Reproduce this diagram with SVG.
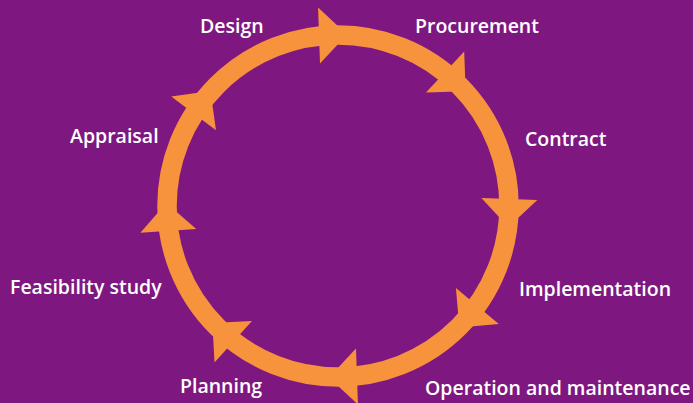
<svg xmlns="http://www.w3.org/2000/svg" xmlns:xlink="http://www.w3.org/1999/xlink" width="693" height="403" viewBox="0 0 693 403">
  <style>
    .bg { fill: #7e1880; }
    .ring { fill: none; stroke: #f7933c; stroke-width: 19.5; }
    .ah { fill: #f7933c; }
    .lbl { font-family: "Open Sans", "Noto Sans", "Liberation Sans", sans-serif; font-size: 19.5px; font-weight: 600; fill: #ffffff; }
  </style>
  <defs>
    <path id="arrowhead" class="ah" d="M -13,-28 L 15,0 L -13,28 Z"/>
  </defs>
  <rect class="bg" x="0" y="0" width="693" height="403"/>
  <g id="connectors">
    <circle class="ring" cx="338" cy="206" r="171"/>
    <use xlink:href="#arrowhead" href="#arrowhead" transform="translate(338,206) rotate(-92) translate(171,0) rotate(90)"/>
    <use xlink:href="#arrowhead" href="#arrowhead" transform="translate(338,206) rotate(-47) translate(171,0) rotate(90)"/>
    <use xlink:href="#arrowhead" href="#arrowhead" transform="translate(338,206) rotate(2) translate(171,0) rotate(90)"/>
    <use xlink:href="#arrowhead" href="#arrowhead" transform="translate(338,206) rotate(40) translate(171,0) rotate(90)"/>
    <use xlink:href="#arrowhead" href="#arrowhead" transform="translate(338,206) rotate(88) translate(171,0) rotate(90)"/>
    <use xlink:href="#arrowhead" href="#arrowhead" transform="translate(338,206) rotate(132) translate(171,0) rotate(90)"/>
    <use xlink:href="#arrowhead" href="#arrowhead" transform="translate(338,206) rotate(176) translate(171,0) rotate(90)"/>
    <use xlink:href="#arrowhead" href="#arrowhead" transform="translate(338,206) rotate(217) translate(171,0) rotate(90)"/>
  </g>
  <g id="design"><text class="lbl" x="200" y="33">Design</text></g>
  <g id="procurement"><text class="lbl" x="415" y="33">Procurement</text></g>
  <g id="contract"><text class="lbl" x="525" y="146">Contract</text></g>
  <g id="implementation"><text class="lbl" x="519" y="296">Implementation</text></g>
  <g id="operation"><text class="lbl" x="425" y="395">Operation and maintenance</text></g>
  <g id="planning"><text class="lbl" x="180" y="393">Planning</text></g>
  <g id="feasibility"><text class="lbl" x="10" y="294">Feasibility study</text></g>
  <g id="appraisal"><text class="lbl" x="70" y="143">Appraisal</text></g>
</svg>
